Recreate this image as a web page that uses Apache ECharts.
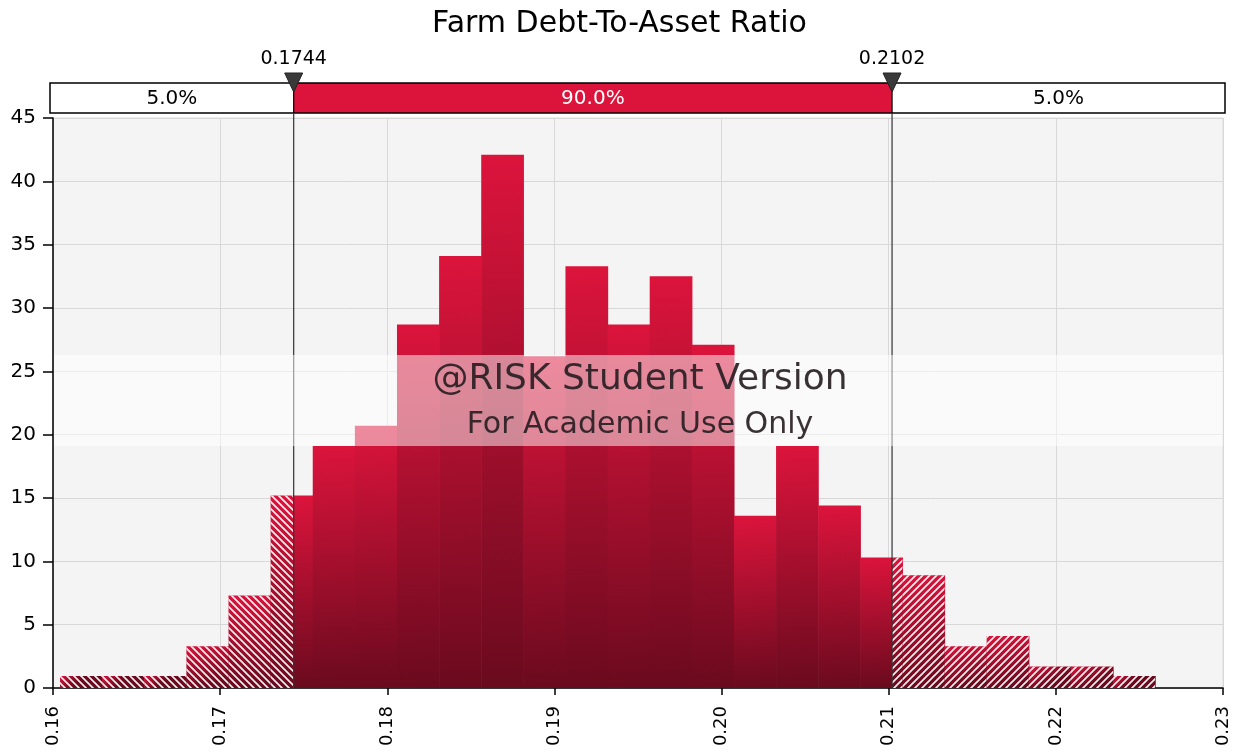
<!DOCTYPE html>
<html>
<head>
<meta charset="utf-8">
<script src="https://cdn.jsdelivr.net/npm/echarts@6/dist/echarts.min.js"></script>
<style>
html,body{margin:0;padding:0;background:#fff;}
#chart{width:1239px;height:755px;}
</style>
</head>
<body>
<div id="chart"></div>
<script>
// ---- data ----
const chartTitle = 'Farm Debt-To-Asset Ratio';
const binEdges = [0.16042,0.16294,0.16546,0.16798,0.17050,0.17302,0.17554,0.17806,0.18058,0.18310,
  0.18562,0.18814,0.19066,0.19318,0.19570,0.19822,0.20074,0.20326,0.20578,0.20830,
  0.21082,0.21334,0.21586,0.21838,0.22090,0.22342,0.22594];
const binValues = [0.95,0.95,0.95,3.3,7.3,15.2,19.1,20.7,28.7,34.1,
  42.1,26.2,33.3,28.7,32.5,27.1,13.6,19.1,14.4,10.3,
  8.9,3.3,4.1,1.7,1.7,0.95];
const percentileValues = [0.1744, 0.2102];
const percentileLabels = ['0.1744', '0.2102'];
const bandLabels = ['5.0%', '90.0%', '5.0%'];
const xTicks = [0.16,0.17,0.18,0.19,0.20,0.21,0.22,0.23];
const yTicks = [0,5,10,15,20,25,30,35,40,45];
const watermark = ['@RISK Student Version', 'For Academic Use Only'];

const FONT = 'DejaVu Sans';
const GRID = {left:53, right:16, top:118, bottom:67};

function makeHatch(dir){
  const s = 7;
  const c = document.createElement('canvas');
  c.width = s; c.height = s;
  const g = c.getContext('2d');
  g.strokeStyle = 'rgba(255,255,255,1)';
  g.lineWidth = 1.7;
  g.beginPath();
  for (let k=-1;k<=2;k++){
    if (dir === 'back'){ // "\" lines
      g.moveTo(-s, -s + k*s); g.lineTo(2*s, 2*s + k*s);
    } else { // "/" lines
      g.moveTo(-s, s + k*s); g.lineTo(2*s, -2*s + k*s);
    }
  }
  g.stroke();
  return c;
}
const hatchLeft = makeHatch('back');
const hatchRight = makeHatch('fwd');

function barGrad(){
  return new echarts.graphic.LinearGradient(0,0,0.25,1,[
    {offset:0,color:'#dc143c'},{offset:1,color:'#6a0a1e'}]);
}

const data = binValues.map((v,i)=>[binEdges[i], binEdges[i+1], v]);

function renderItem(params, api){
  const lo = api.value(0), hi = api.value(1), v = api.value(2);
  const yTop = api.coord([lo, v])[1];
  const yBot = api.coord([lo, 0])[1];
  const xLo = api.coord([lo,0])[0], xHi = api.coord([hi,0])[0];
  const xP5 = api.coord([percentileValues[0],0])[0];
  const xP95 = api.coord([percentileValues[1],0])[0];
  const children = [];
  const h = yBot - yTop;
  function piece(a, b, hatch){
    if (b - a <= 0.01) return;
    children.push({type:'rect', shape:{x:a, y:yTop, width:(b-a)+0.6, height:h},
      style:{fill:barGrad()}});
    if (hatch){
      children.push({type:'rect', shape:{x:a, y:yTop, width:b-a, height:h},
        style:{fill:{image:hatch, repeat:'repeat'}, opacity:0.92}});
    }
  }
  piece(xLo, Math.min(xHi, xP5), hatchLeft);
  piece(Math.max(xLo, xP5), Math.min(xHi, xP95), null);
  piece(Math.max(xLo, xP95), xHi, hatchRight);
  return {type:'group', children};
}

const chart = echarts.init(document.getElementById('chart'), null, {renderer:'canvas'});
chart.setOption({
  animation:false,
  backgroundColor:'#ffffff',
  textStyle:{fontFamily:FONT},
  title:{text:chartTitle, left:'center', top:4,
    textStyle:{fontFamily:FONT, fontSize:30, fontWeight:'normal', color:'#000'}},
  grid:{left:GRID.left, right:GRID.right, top:GRID.top, bottom:GRID.bottom,
    show:true, backgroundColor:'#f4f4f4', borderColor:'#dedede', borderWidth:1},
  xAxis:{type:'value', min:xTicks[0], max:xTicks[xTicks.length-1], interval:0.01,
    axisLine:{show:true, onZero:false, lineStyle:{color:'#000', width:1.5}},
    axisTick:{show:true, length:7, lineStyle:{color:'#000', width:1.5}},
    axisLabel:{rotate:90, fontSize:18, color:'#000', fontFamily:FONT, margin:18,
      formatter:v=>v.toFixed(2)},
    splitLine:{show:true, lineStyle:{color:'#d8d8d8', width:1}}},
  yAxis:{type:'value', min:yTicks[0], max:yTicks[yTicks.length-1], interval:5,
    axisLine:{show:true, lineStyle:{color:'#000', width:1.5}},
    axisTick:{show:true, length:10, lineStyle:{color:'#000', width:1.5}},
    axisLabel:{fontSize:20, color:'#000', fontFamily:FONT, margin:17},
    splitLine:{show:true, lineStyle:{color:'#d8d8d8', width:1}}},
  series:[{type:'custom', renderItem, data, encode:{x:[0,1], y:2}, z:2}]
});

// ---- annotations placed through the axis scales ----
const xP5 = chart.convertToPixel({xAxisIndex:0}, percentileValues[0]);
const xP95 = chart.convertToPixel({xAxisIndex:0}, percentileValues[1]);
const gL = chart.convertToPixel({xAxisIndex:0}, xTicks[0]);
const gR = chart.convertToPixel({xAxisIndex:0}, xTicks[xTicks.length-1]);
const yBase = chart.convertToPixel({yAxisIndex:0}, 0);
const barL = gL - 3, barR = gR + 2, barT = 83, barB = 113;
const bandTop = 355, bandBot = 446;
const cx = (gL+gR)/2;

const g = [];
g.push({type:'rect', shape:{x:barL, y:barT, width:barR-barL, height:barB-barT},
  style:{fill:'#fff'}, z:10});
g.push({type:'rect', shape:{x:xP5, y:barT, width:xP95-xP5, height:barB-barT},
  style:{fill:'#dc143c'}, z:11});
g.push({type:'rect', shape:{x:barL, y:barT, width:barR-barL, height:barB-barT},
  style:{fill:'none', stroke:'#000', lineWidth:1.5}, z:12});
const segs = [[barL,xP5],[xP5,xP95],[xP95,barR]];
segs.forEach((s,i)=>{
  g.push({type:'text', x:(s[0]+s[1])/2, y:(barT+barB)/2+1, z:13,
    style:{text:bandLabels[i], font:'20px "'+FONT+'"', fill: i===1?'#fff':'#000',
      align:'center', verticalAlign:'middle'}});
});
[xP5, xP95].forEach((x,i)=>{
  g.push({type:'line', shape:{x1:x, y1:barB, x2:x, y2:yBase}, z:14,
    style:{stroke:'#333', lineWidth:1.2}});
  g.push({type:'line', shape:{x1:x, y1:barT, x2:x, y2:barB}, z:14,
    style:{stroke:'#000', lineWidth:1.2}});
  g.push({type:'polygon', shape:{points:[[x-9,73],[x+9,73],[x,92]]}, z:15,
    style:{fill:'#3a3a3a', stroke:'#222', lineWidth:1}});
  g.push({type:'text', x:x, y:59, z:15,
    style:{text:percentileLabels[i], font:'19px "'+FONT+'"', fill:'#000',
      align:'center', verticalAlign:'middle'}});
});
g.push({type:'rect', shape:{x:gL+1, y:bandTop, width:gR-gL-1, height:bandBot-bandTop},
  style:{fill:'rgba(255,255,255,0.5)'}, z:20});
g.push({type:'text', x:cx+2, y:380, z:21,
  style:{text:watermark[0], font:'36px "'+FONT+'"', fill:'rgba(40,30,35,0.92)',
    align:'center', verticalAlign:'middle'}});
g.push({type:'text', x:cx+2, y:425, z:21,
  style:{text:watermark[1], font:'30px "'+FONT+'"', fill:'rgba(40,30,35,0.92)',
    align:'center', verticalAlign:'middle'}});
chart.setOption({graphic:g});
</script>
</body>
</html>
